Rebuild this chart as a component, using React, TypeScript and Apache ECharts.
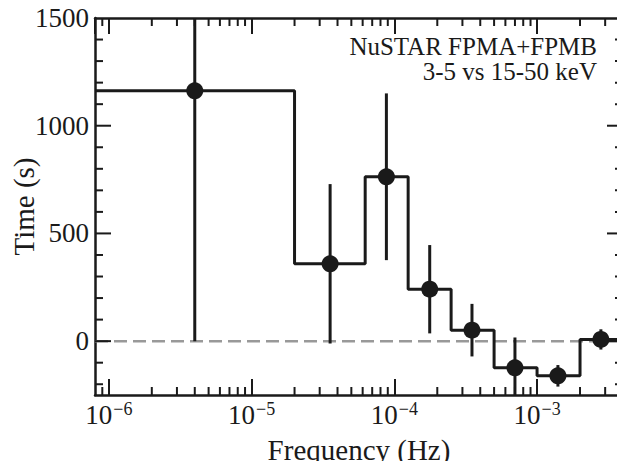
import React, { useEffect, useRef } from "react";
import * as echarts from "echarts";

// Bin edges (Hz) of the step histogram
const binEdges = [8e-7, 2e-5, 6.25e-5, 1.25e-4, 2.5e-4, 5e-4, 1e-3, 2e-3, 4e-3];
// Bin centre frequencies (Hz)
const freqs = [4e-6, 3.55e-5, 8.8e-5, 1.77e-4, 3.5e-4, 7e-4, 1.4e-3, 2.8e-3];
// Time lags (s)
const lags = [1162, 359, 763, 241, 51, -124, -161, 8];
// 1-sigma errors (s)
const errs = [1162, 370, 387, 205, 122, 141, 50, 47];
// Minor tick multipliers per decade
const minorMult = [2, 3, 4, 5, 6, 7, 8, 9];
const decades = [-7, -6, -5, -4, -3];
// Y tick values (every 100 s; labelled every 500 s)
const yTickStep = 100;
const yLabelStep = 500;

const X_MIN = 8e-7;
const X_MAX = 4e-3;
const Y_MIN = -250;
const Y_MAX = 1500;
const FONT = "Liberation Serif";
const INK = "#1a1a1a";

export default function App() {
  const ref = useRef<HTMLDivElement>(null);
  useEffect(() => {
    if (!ref.current) return;
    const chart = echarts.init(ref.current, null, { renderer: "svg" });

    const stepData: number[][] = binEdges.map((e, i) => [e, lags[Math.min(i, lags.length - 1)]]);
    const errData = freqs.map((f, i) => [f, lags[i] - errs[i], lags[i] + errs[i]]);
    const pts = freqs.map((f, i) => [f, lags[i]]);
    const minorTicks: number[][] = [];
    decades.forEach((d) =>
      minorMult.forEach((m) => {
        const v = m * Math.pow(10, d);
        if (v > X_MIN && v < X_MAX) minorTicks.push([v]);
      })
    );
    const yTicks: number[][] = [];
    for (let v = Math.ceil(Y_MIN / yTickStep) * yTickStep; v < Y_MAX; v += yTickStep) {
      yTicks.push([v, v % yLabelStep === 0 ? 1 : 0]);
    }

    const xLabel = (v: number) => {
      const e = Math.round(Math.log10(v));
      if (Math.abs(Math.pow(10, e) - v) / v > 1e-6) return "";
      return "{b|10}{s|\u2212" + Math.abs(e) + "}";
    };

    const axisLine = { show: true, onZero: false, lineStyle: { color: INK, width: 2.5 } };
    const tickStyle = { color: INK, width: 2 };

    chart.setOption({
      animation: false,
      grid: { left: 95, right: 2, top: 18, bottom: 74, containLabel: false, outerBoundsMode: "none" },
      xAxis: [
        {
          type: "log",
          logBase: 10,
          min: X_MIN,
          max: X_MAX,
          position: "bottom",
          axisLine,
          axisTick: { show: true, inside: true, length: 16, lineStyle: tickStyle },
          splitLine: { show: false },
          axisLabel: {
            showMinLabel: false,
            showMaxLabel: false,
            margin: 4,
            formatter: xLabel,
            rich: {
              b: { fontFamily: FONT, fontSize: 27, color: INK, padding: [2, 0, 0, 0] },
              s: { fontFamily: FONT, fontSize: 18, color: INK, padding: [0, 0, 10, 1] },
            },
          },
          name: "Frequency (Hz)",
          nameLocation: "middle",
          nameGap: 40,
          nameMoveOverlap: false,
          nameTextStyle: { fontFamily: FONT, fontSize: 29, color: INK },
        },
        {
          type: "log",
          logBase: 10,
          min: X_MIN,
          max: X_MAX,
          position: "top",
          axisLine,
          axisTick: { show: true, inside: true, length: 16, lineStyle: tickStyle },
          splitLine: { show: false },
          axisLabel: { show: false },
        },
      ],
      yAxis: [
        {
          type: "value",
          min: Y_MIN,
          max: Y_MAX,
          interval: 250,
          position: "left",
          axisLine,
          axisTick: { show: false },
          splitLine: { show: false },
          axisLabel: {
            margin: 6,
            fontFamily: FONT,
            fontSize: 27,
            color: INK,
            formatter: (v: number) => (v % yLabelStep === 0 && v >= 0 ? String(v) : ""),
          },
          name: "Time (s)",
          nameLocation: "middle",
          nameGap: 57,
          nameMoveOverlap: false,
          nameTextStyle: { fontFamily: FONT, fontSize: 29, color: INK },
        },
        {
          type: "value",
          min: Y_MIN,
          max: Y_MAX,
          interval: 250,
          position: "right",
          axisLine,
          axisTick: { show: false },
          splitLine: { show: false },
          axisLabel: { show: false },
        },
      ],
      series: [
        {
          type: "line",
          data: [
            [X_MIN, 0],
            [X_MAX, 0],
          ],
          symbol: "none",
          lineStyle: { color: "#999", width: 2.5, type: [13, 6] },
          z: 1,
          silent: true,
        },
        {
          type: "line",
          step: "end",
          data: stepData,
          symbol: "none",
          lineStyle: { color: INK, width: 3 },
          z: 3,
        },
        {
          type: "custom",
          clip: true,
          data: errData,
          z: 4,
          renderItem: (params: any, api: any) => {
            const x = api.value(0);
            const p1 = api.coord([x, api.value(1)]);
            const p2 = api.coord([x, api.value(2)]);
            return {
              type: "line",
              shape: { x1: p1[0], y1: p1[1], x2: p2[0], y2: p2[1] },
              style: { stroke: INK, lineWidth: 3 },
            };
          },
        },
        {
          type: "scatter",
          data: pts,
          symbol: "circle",
          symbolSize: 17,
          itemStyle: { color: INK, opacity: 1 },
          z: 5,
        },
        {
          type: "custom",
          clip: false,
          data: minorTicks,
          z: 6,
          renderItem: (params: any, api: any) => {
            const x = api.value(0);
            const b = api.coord([x, Y_MIN]);
            const t = api.coord([x, Y_MAX]);
            return {
              type: "group",
              children: [
                { type: "line", shape: { x1: b[0], y1: b[1], x2: b[0], y2: b[1] - 8 }, style: { stroke: INK, lineWidth: 2 } },
                { type: "line", shape: { x1: t[0], y1: t[1], x2: t[0], y2: t[1] + 8 }, style: { stroke: INK, lineWidth: 2 } },
              ],
            };
          },
        },
        {
          type: "custom",
          clip: false,
          data: yTicks,
          z: 6,
          renderItem: (params: any, api: any) => {
            const v = api.value(0);
            const len = api.value(1) ? 16 : 8;
            const l = api.coord([X_MIN, v]);
            const r = api.coord([X_MAX, v]);
            return {
              type: "group",
              children: [
                { type: "line", shape: { x1: l[0], y1: l[1], x2: l[0] + len, y2: l[1] }, style: { stroke: INK, lineWidth: 2 } },
                { type: "line", shape: { x1: r[0], y1: r[1], x2: r[0] - len, y2: r[1] }, style: { stroke: INK, lineWidth: 2 } },
              ],
            };
          },
        },
      ],
      graphic: [
        {
          type: "text",
          x: 597,
          y: 34,
          style: {
            text: "NuSTAR FPMA+FPMB",
            align: "right",
            verticalAlign: "top",
            fontFamily: FONT,
            fontSize: 25,
            fill: INK,
          },
        },
        {
          type: "text",
          x: 597,
          y: 59,
          style: {
            text: "3-5 vs 15-50 keV",
            align: "right",
            verticalAlign: "top",
            fontFamily: FONT,
            fontSize: 25,
            fill: INK,
          },
        },
      ],
    });
    return () => chart.dispose();
  }, []);
  return <div ref={ref} style={{ width: 625, height: 469, margin: -8 }} />;
}
